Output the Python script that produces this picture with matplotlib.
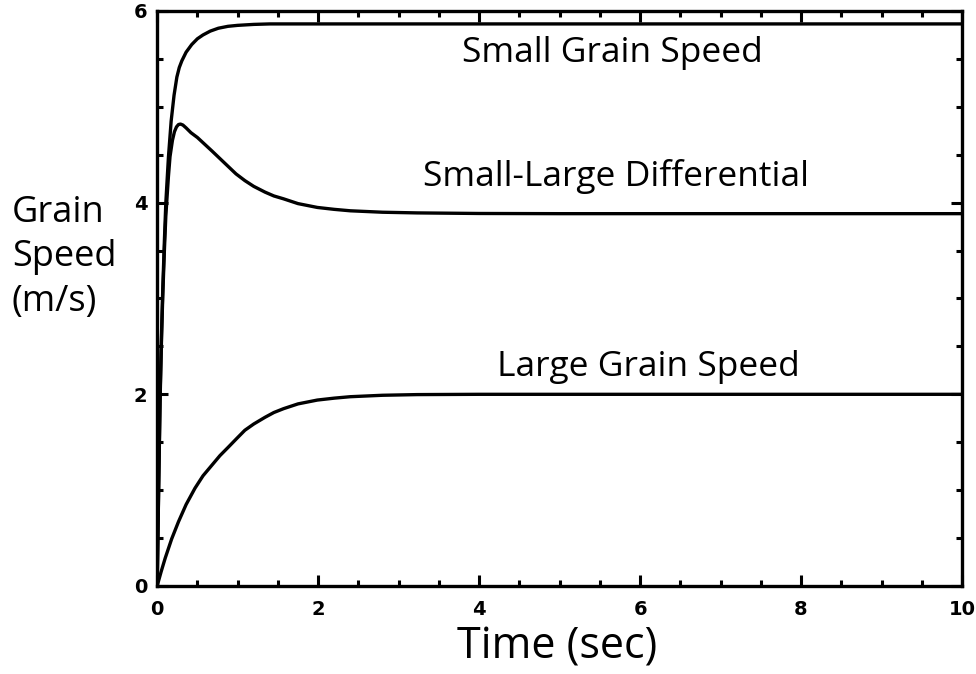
import matplotlib.pyplot as plt
from matplotlib.ticker import MultipleLocator

# values
t_small = [0.0, 0.01, 0.02, 0.037, 0.055, 0.07, 0.09, 0.108, 0.125, 0.14, 0.174, 0.21, 0.245,
           0.275, 0.307, 0.36, 0.43, 0.5, 0.57, 0.66, 0.76, 0.88, 1.0, 1.2, 1.4, 10.0]
v_small = [0.0, 0.55, 1.1, 2.0, 2.65, 3.1, 3.6, 4.0, 4.25, 4.47, 4.85, 5.12, 5.31,
           5.41, 5.48, 5.57, 5.65, 5.71, 5.75, 5.79, 5.82, 5.84, 5.85, 5.86, 5.865, 5.865]

t_diff = [0.0, 0.01, 0.02, 0.037, 0.055, 0.07, 0.09, 0.108, 0.125, 0.14, 0.16, 0.19, 0.215,
          0.24, 0.265, 0.29, 0.32, 0.36, 0.42, 0.5, 0.59, 0.68, 0.78, 0.88, 0.98, 1.09, 1.2,
          1.34, 1.45, 1.57, 1.75, 1.99, 2.2, 2.4, 2.8, 3.23, 4.0, 5.0, 10.0]
v_diff = [0.0, 0.53, 1.07, 1.95, 2.6, 3.03, 3.5, 3.86, 4.08, 4.27, 4.48, 4.65, 4.74,
          4.79, 4.815, 4.82, 4.81, 4.78, 4.73, 4.68, 4.61, 4.54, 4.46, 4.38, 4.3, 4.23, 4.17,
          4.11, 4.07, 4.04, 3.99, 3.95, 3.93, 3.915, 3.9, 3.893, 3.887, 3.885, 3.885]

t_large = [0.0, 0.05, 0.1, 0.18, 0.265, 0.36, 0.47, 0.57, 0.68, 0.78, 0.886, 0.99, 1.09, 1.2,
           1.34, 1.45, 1.57, 1.75, 1.99, 2.2, 2.4, 2.8, 3.23, 4.0, 10.0]
v_large = [0.0, 0.15, 0.29, 0.49, 0.67, 0.85, 1.02, 1.15, 1.26, 1.36, 1.45, 1.54, 1.625, 1.69,
           1.76, 1.81, 1.85, 1.9, 1.94, 1.96, 1.975, 1.99, 1.997, 2.0, 2.0]

labels = ["Small Grain Speed", "Small-Large Differential", "Large Grain Speed"]
label_pos = [(5.65, 5.56), (5.7, 4.27), (6.1, 2.29)]

fig = plt.figure(figsize=(9.76, 6.74), dpi=100)
ax = fig.add_axes([0.161, 0.1306, 0.8247, 0.8531])

lw = 2.4
for t, v in [(t_small, v_small), (t_diff, v_diff), (t_large, v_large)]:
    ax.plot(t, v, color="black", lw=lw, solid_joinstyle="round")

for txt, (x, y) in zip(labels, label_pos):
    ax.text(x, y, txt, ha="center", va="center", fontsize=25.5, family="Open Sans")

ax.set_xlim(0, 10)
ax.set_ylim(0, 6)
ax.xaxis.set_major_locator(MultipleLocator(2))
ax.xaxis.set_minor_locator(MultipleLocator(0.5))
ax.yaxis.set_major_locator(MultipleLocator(2))
ax.yaxis.set_minor_locator(MultipleLocator(0.5))
ax.tick_params(which="both", direction="in", top=True, right=True, width=2.2, color="black")
ax.tick_params(which="major", length=8, labelsize=14)
ax.tick_params(axis="x", which="major", pad=10)
ax.tick_params(axis="y", which="major", pad=7)
ax.tick_params(which="minor", length=4.5)
fig.canvas.draw()
for lab in ax.get_xticklabels() + ax.get_yticklabels():
    lab.set_fontweight("heavy")
ylabs = ax.get_yticklabels()
ylabs[0].set_va("bottom")
ylabs[-1].set_va("top")
for sp in ax.spines.values():
    sp.set_linewidth(2.4)

fig.text(0.571, 0.04, "Time (sec)", ha="center", va="center", fontsize=31, family="Open Sans")
fig.text(0.012, 0.618, "Grain\nSpeed\n(m/s)", ha="left", va="center", fontsize=26,
         family="Open Sans", linespacing=1.33)

fig.savefig("out.png", dpi=100)
